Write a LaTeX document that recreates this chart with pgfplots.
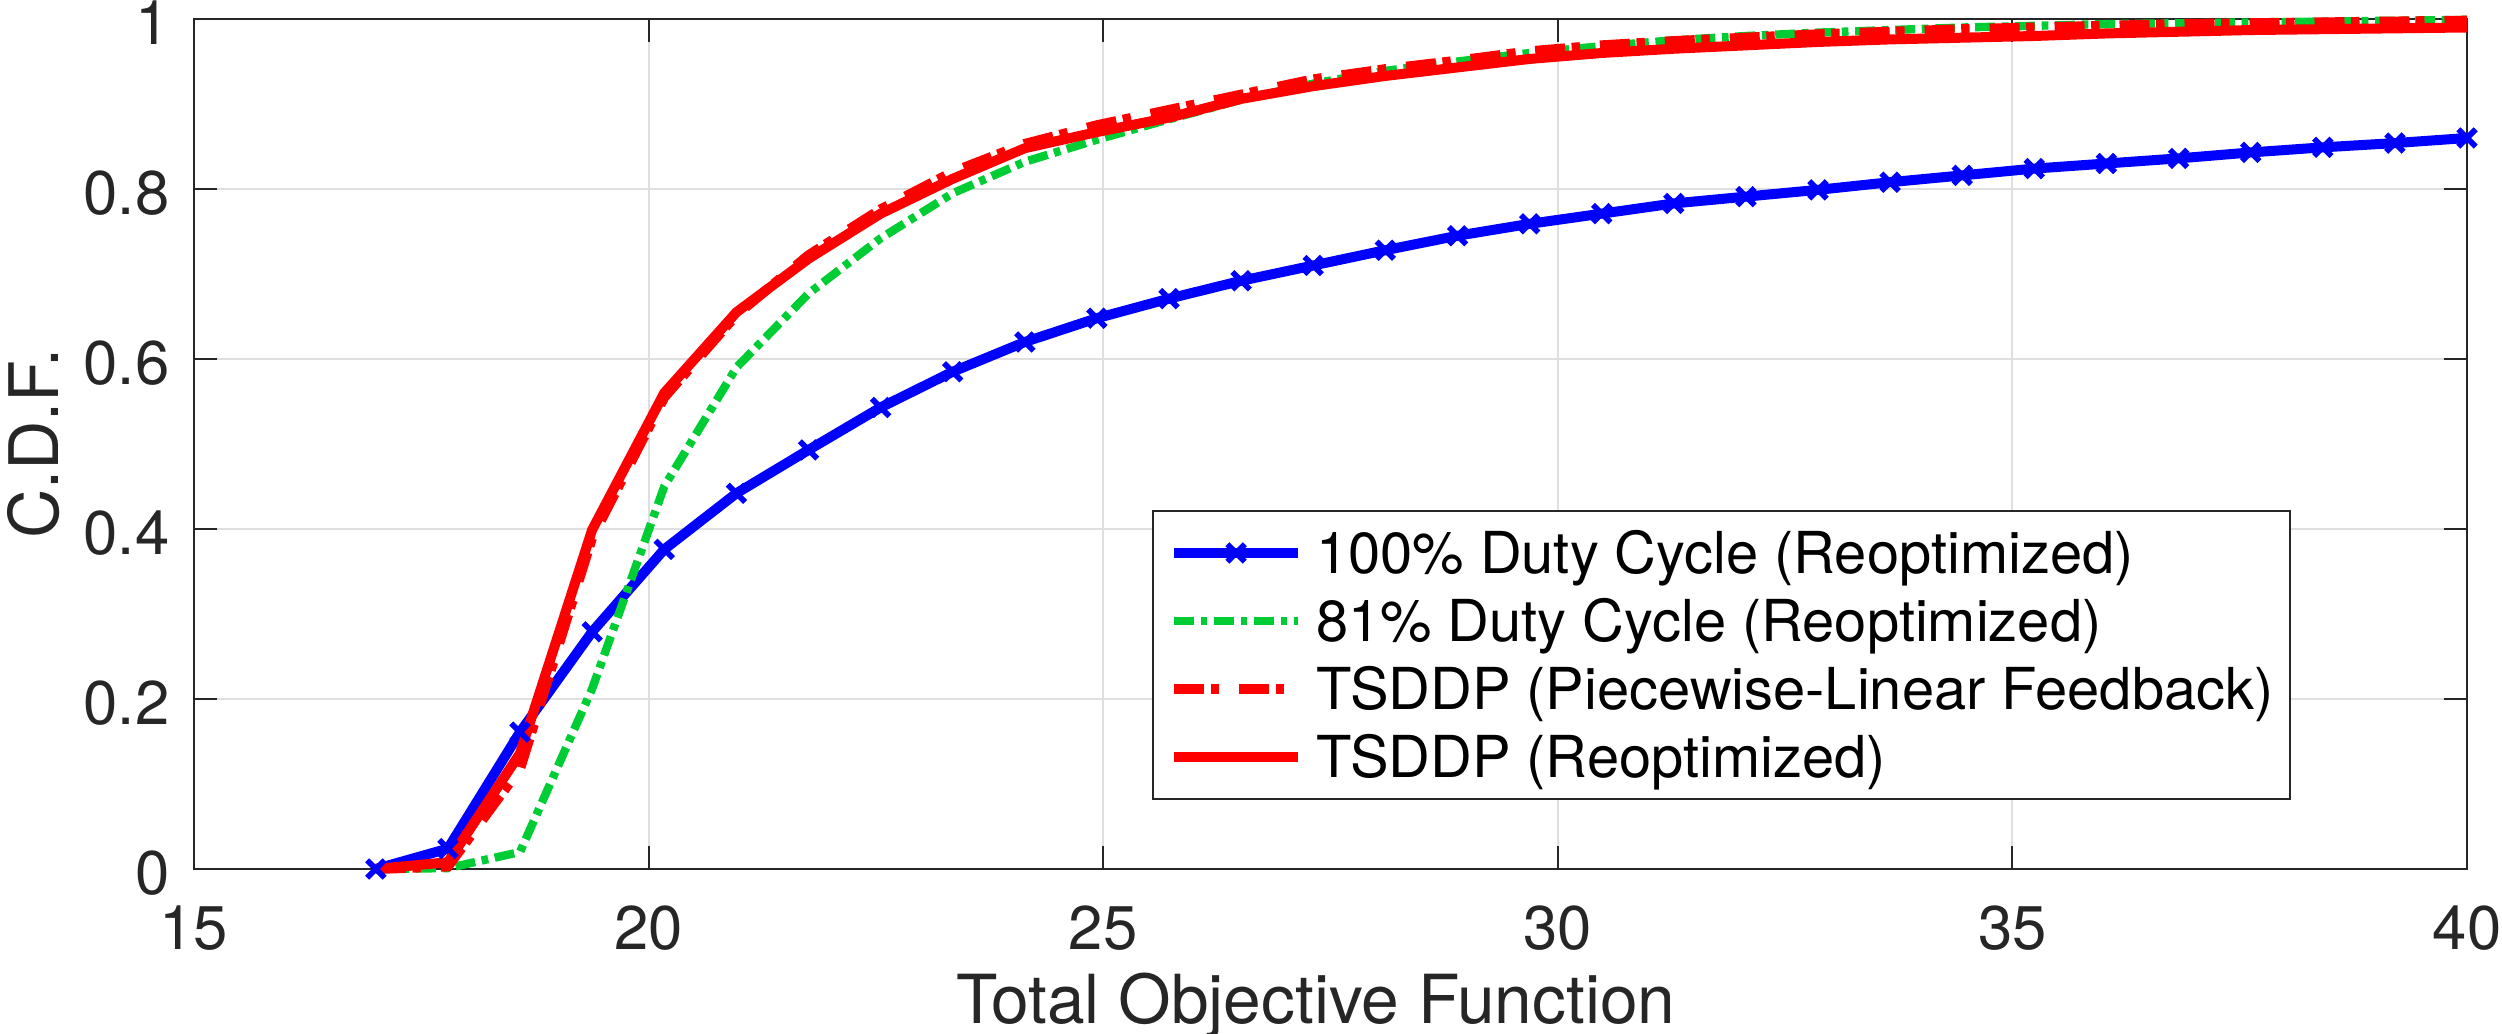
\documentclass[border=0pt]{standalone}
\usepackage{pgfplots}
\pgfplotsset{compat=1.18}
\usepackage{pgfplotstable}
\usepackage{fontspec}
\setmainfont{TeX Gyre Heros}
\definecolor{mblue}{RGB}{0,0,255}
\definecolor{mgreen}{RGB}{0,204,51}
\definecolor{mred}{RGB}{255,0,0}
\definecolor{axisgray}{RGB}{38,38,38}
\definecolor{gridgray}{RGB}{223,223,223}

\pgfplotstableread{
x      blue  green reddash red
17.000 0.000 0.000 0.000 0.000
17.793 0.024 0.001 0.003 0.008
18.586 0.161 0.020 0.118 0.136
19.379 0.279 0.212 0.390 0.399
20.172 0.376 0.450 0.555 0.560
20.966 0.442 0.590 0.652 0.655
21.759 0.493 0.677 0.722 0.718
22.552 0.543 0.742 0.776 0.771
23.345 0.585 0.795 0.820 0.812
24.138 0.620 0.832 0.853 0.848
24.931 0.648 0.858 0.875 0.867
25.724 0.671 0.882 0.893 0.884
26.517 0.692 0.905 0.911 0.906
27.310 0.710 0.924 0.929 0.921
28.103 0.728 0.939 0.941 0.933
28.897 0.745 0.950 0.951 0.943
29.690 0.759 0.960 0.962 0.953
30.483 0.771 0.968 0.969 0.960
31.276 0.783 0.975 0.974 0.965
32.069 0.791 0.980 0.978 0.969
32.862 0.799 0.984 0.982 0.973
33.655 0.808 0.987 0.985 0.976
34.448 0.816 0.990 0.988 0.978
35.241 0.824 0.992 0.990 0.980
36.034 0.830 0.994 0.992 0.983
36.828 0.836 0.995 0.994 0.985
37.621 0.843 0.996 0.995 0.987
38.414 0.849 0.997 0.996 0.988
39.207 0.854 0.998 0.997 0.989
40.000 0.860 0.999 0.998 0.990
}\cdfdata

\begin{document}
\begin{tikzpicture}
\useasboundingbox (-58.2pt,-49.5pt) rectangle (692.4pt,260.7pt);
\begin{axis}[
  scale only axis, width=681.9pt, height=255pt,
  xmin=15, xmax=40, ymin=0, ymax=1,
  xtick={15,20,25,30,35,40},
  ytick={0,0.2,0.4,0.6,0.8,1},
  tick pos=both, xticklabel pos=lower, yticklabel pos=left,
  tick align=inside, major tick length=6.8pt,
  tick style={color=axisgray, line width=0.6pt},
  axis line style={color=axisgray, line width=0.6pt},
  grid=major,
  major grid style={color=gridgray, line width=0.6pt},
  clip=false,
  /pgf/number format/assume math mode=true,
  ticklabel style={font=\fontsize{18.5}{18.5}\selectfont, text=axisgray},
  xticklabel style={anchor=north, inner sep=0pt, yshift=-10.8pt},
  yticklabel style={anchor=east, inner sep=0pt, xshift=-7.2pt, yshift=-1.2pt},
  xlabel={Total Objective Function},
  ylabel={C.D.F.},
  every axis x label/.style={at={(axis description cs:0.4935,-0.1812)}, anchor=base, font=\fontsize{20.3}{20.3}\selectfont, text=axisgray},
  every axis y label/.style={at={(axis description cs:-0.0598,0.5)}, anchor=base, rotate=90, font=\fontsize{20.5}{20.5}\selectfont, text=axisgray},
  legend cell align=left,
  legend style={at={(0.4215,0.4224)}, anchor=north west,
    draw=axisgray, line width=0.6pt, fill=white,
    font=\fontsize{17.35}{17.35}\selectfont,
    inner xsep=4.8pt, inner ysep=4.3pt,
    row sep=3.8pt, column sep=3.9pt,
    nodes={inner sep=0pt, text height=14.6pt, text depth=2pt}},
  legend image code/.code={\draw[mark repeat=2,mark phase=2,#1] plot coordinates {(0pt,0pt) (18.6pt,0pt) (37.2pt,0pt)};},
]
\addplot[color=mblue, line width=3pt, mark=x, mark size=3.7pt, mark options={solid, line width=1.7pt}] table[x=x, y=blue] {\cdfdata};
\addlegendentry{100\% Duty Cycle (Reoptimized)}
\addplot[color=mgreen, line width=2.5pt, dash pattern=on 6pt off 2pt on 2pt off 2pt] table[x=x, y=green] {\cdfdata};
\addlegendentry{81\% Duty Cycle (Reoptimized)}
\addplot[color=mred, line width=3pt, dash pattern=on 9pt off 2pt on 2.5pt off 6pt] table[x=x, y=reddash] {\cdfdata};
\addlegendentry{TSDDP (Piecewise-Linear Feedback)}
\addplot[color=mred, line width=3pt] table[x=x, y=red] {\cdfdata};
\addlegendentry{TSDDP (Reoptimized)}
\end{axis}
\end{tikzpicture}
\end{document}
